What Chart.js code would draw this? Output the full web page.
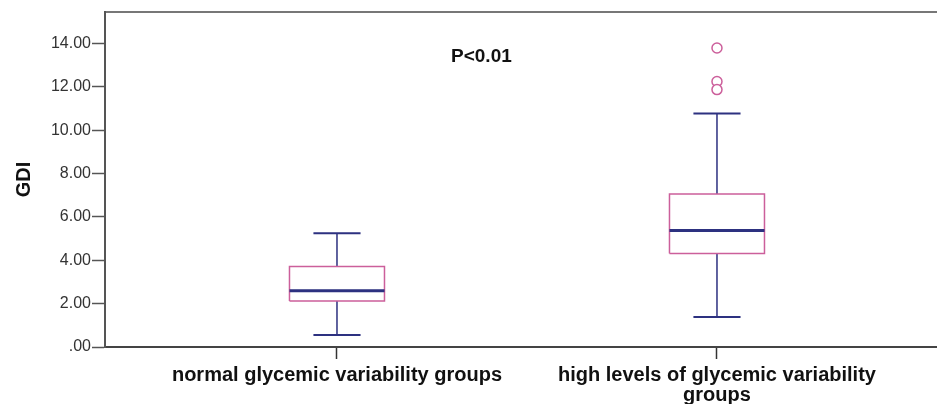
<!DOCTYPE html>
<html>
<head>
<meta charset="utf-8">
<script src="https://cdn.jsdelivr.net/npm/chart.js@4"></script>
<style>
  body { margin: 0; background: #fff; overflow: hidden; }
  canvas { display: block; }
</style>
</head>
<body>
<canvas id="gdiChart" width="937" height="404"></canvas>
<script>
// Box plot values
const groups = ['normal glycemic variability groups', ['high levels of glycemic variability', 'groups']];
const groupPos = [1, 2];
const whiskerLow = [0.55, 1.38];
const quart1 = [2.12, 4.32];
const medians = [2.60, 5.38];
const quart3 = [3.71, 7.06];
const whiskerHigh = [5.25, 10.78];
const outliersHigh = [[], [13.80, 12.25, 11.88]];
const yTicks = [0, 2, 4, 6, 8, 10, 12, 14];
const yTickLabels = ['.00', '2.00', '4.00', '6.00', '8.00', '10.00', '12.00', '14.00'];

const boxHalf = 0.125;   // half box width in x units
const capHalf = 0.062;
const pink = '#cc5f9b';
const navy = '#2d3180';

// build line segments from the arrays (null breaks the line)
var whiskerPts = [], capPts = [], boxPts = [], medianPts = [], outlierPts = [];
groupPos.forEach(function (x, i) {
    whiskerPts.push({x: x, y: quart3[i]}, {x: x, y: whiskerHigh[i]}, {x: x, y: null});
    whiskerPts.push({x: x, y: quart1[i]}, {x: x, y: whiskerLow[i]}, {x: x, y: null});
    capPts.push({x: x - capHalf, y: whiskerHigh[i]}, {x: x + capHalf, y: whiskerHigh[i]}, {x: x, y: null});
    capPts.push({x: x - capHalf, y: whiskerLow[i]}, {x: x + capHalf, y: whiskerLow[i]}, {x: x, y: null});
    boxPts.push({x: x - boxHalf, y: quart1[i]}, {x: x + boxHalf, y: quart1[i]},
        {x: x + boxHalf, y: quart3[i]}, {x: x - boxHalf, y: quart3[i]},
        {x: x - boxHalf, y: quart1[i]}, {x: x, y: null});
    medianPts.push({x: x - boxHalf, y: medians[i]}, {x: x + boxHalf, y: medians[i]}, {x: x, y: null});
    outliersHigh[i].forEach(function (v) { outlierPts.push({x: x, y: v}); });
});

const xMin = 0.3895, xMax = 2.579;

// "P<0.01" note placed in data units
const noteText = 'P<0.01';
const noteX = 1.38, noteY = 13.4;
const notePlugin = {
    id: 'note',
    afterDatasetsDraw(chart) {
        const c = chart.ctx;
        c.save();
        c.font = 'bold 19px "Liberation Sans", Arial, sans-serif';
        c.fillStyle = '#111';
        c.textAlign = 'center';
        c.textBaseline = 'middle';
        c.fillText(noteText, chart.scales.x.getPixelForValue(noteX), chart.scales.y.getPixelForValue(noteY));
        c.restore();
    }
};

var ctx = document.getElementById('gdiChart').getContext('2d');
var gdiChart = new Chart(ctx, {
    type: 'line',
    data: {
        datasets: [
            { data: whiskerPts, borderColor: navy, borderWidth: 1.5, pointRadius: 0, spanGaps: false, order: 4 },
            { data: capPts, borderColor: navy, borderWidth: 2, pointRadius: 0, spanGaps: false, order: 3 },
            { data: boxPts, borderColor: pink, borderWidth: 1.5, pointRadius: 0, spanGaps: false, order: 2, borderJoinStyle: 'miter' },
            { data: medianPts, borderColor: navy, borderWidth: 3, pointRadius: 0, spanGaps: false, order: 1 },
            { type: 'scatter', data: outlierPts, showLine: false, pointRadius: 5, pointBorderWidth: 1.5,
              pointBorderColor: pink, pointBackgroundColor: '#fff', order: 0 }
        ]
    },
    options: {
        responsive: false,
        animation: false,
        events: [],
        layout: { autoPadding: false, padding: { top: 12, right: 0, left: 0, bottom: 0 } },
        plugins: {
            legend: { display: false },
            tooltip: { enabled: false }
        },
        scales: {
            x: {
                type: 'linear',
                position: 'bottom',
                min: xMin,
                max: xMax,
                afterBuildTicks: function (scale) {
                    scale.ticks = groupPos.map(function (v) { return {value: v}; });
                },
                afterFit: function (scale) {
                    scale.height = 57;
                    scale.paddingLeft = 0;
                    scale.paddingRight = 0;
                },
                grid: { drawOnChartArea: false, tickLength: 12, tickColor: '#333', tickWidth: 1.5 },
                border: { color: '#444', width: 2 },
                ticks: {
                    padding: 6,
                    maxRotation: 0,
                    autoSkip: false,
                    color: '#111',
                    font: { family: '"Liberation Sans", Arial, sans-serif', size: 20, weight: 'bold', lineHeight: 1.0 },
                    callback: function (v) {
                        var i = groupPos.indexOf(v);
                        return i >= 0 ? groups[i] : '';
                    }
                }
            },
            xTop: {
                type: 'linear',
                position: 'top',
                min: xMin,
                max: xMax,
                afterFit: function (scale) {
                    scale.height = 0;
                    scale.paddingLeft = 0;
                    scale.paddingRight = 0;
                },
                grid: { display: false },
                ticks: { display: false },
                border: { color: '#777', width: 2 }
            },
            y: {
                min: 0,
                max: 15.46,
                afterBuildTicks: function (scale) {
                    scale.ticks = yTicks.map(function (v) { return {value: v}; });
                },
                afterFit: function (scale) { scale.width = 105; },
                grid: { drawOnChartArea: false, tickLength: 13, tickColor: '#555', tickWidth: 1.5 },
                border: { color: '#555', width: 2 },
                ticks: {
                    padding: 1,
                    color: '#333',
                    font: { family: '"Liberation Sans", Arial, sans-serif', size: 16 },
                    callback: function (v) {
                        var i = yTicks.indexOf(v);
                        return i >= 0 ? yTickLabels[i] : '';
                    }
                },
                title: {
                    display: true,
                    text: 'GDI',
                    color: '#111',
                    padding: { top: 12, bottom: 0 },
                    font: { family: '"Liberation Sans", Arial, sans-serif', size: 20, weight: 'bold' }
                }
            }
        }
    },
    plugins: [notePlugin]
});
</script>
</body>
</html>
